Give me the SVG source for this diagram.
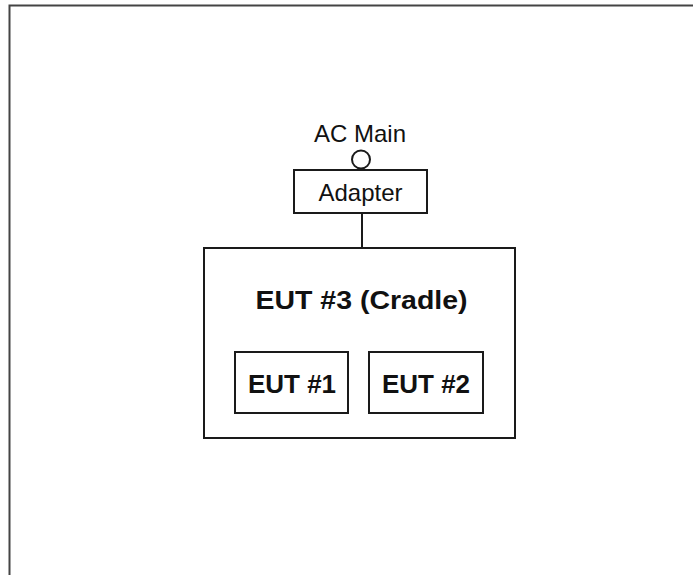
<svg xmlns="http://www.w3.org/2000/svg" width="693" height="575" viewBox="0 0 693 575">
  <style>
    .box { fill: #ffffff; stroke: #1a1a1a; stroke-width: 2; }
    .wire { stroke: #1a1a1a; stroke-width: 2; fill: none; }
    .lbl { font-family: "Liberation Sans", Arial, sans-serif; fill: #111111; text-anchor: middle; }
    .bold { font-weight: bold; font-size: 26px; }
    .reg { font-size: 24px; }
  </style>
  <rect x="0" y="0" width="693" height="575" fill="#ffffff"/>
  <g id="frame">
    <rect x="9.5" y="5.5" width="700" height="600" fill="none" stroke="#444444" stroke-width="2"/>
  </g>
  <g id="connectors">
    <line class="wire" x1="362" y1="213" x2="362" y2="248"/>
  </g>
  <g id="ac-main">
    <text class="lbl reg" x="360" y="142">AC Main</text>
    <circle cx="361" cy="159.5" r="9" fill="#ffffff" stroke="#1a1a1a" stroke-width="2"/>
  </g>
  <g id="adapter">
    <rect class="box" x="294" y="170" width="133" height="43"/>
    <text class="lbl reg" x="360.5" y="201">Adapter</text>
  </g>
  <g id="eut3">
    <rect class="box" x="204" y="248" width="311" height="190"/>
    <text class="lbl bold" x="361.5" y="309" textLength="212" lengthAdjust="spacingAndGlyphs">EUT #3 (Cradle)</text>
  </g>
  <g id="eut1">
    <rect class="box" x="235" y="352" width="113" height="61"/>
    <text class="lbl bold" x="292" y="393">EUT #1</text>
  </g>
  <g id="eut2">
    <rect class="box" x="369" y="352" width="114" height="61"/>
    <text class="lbl bold" x="426" y="393">EUT #2</text>
  </g>
</svg>
